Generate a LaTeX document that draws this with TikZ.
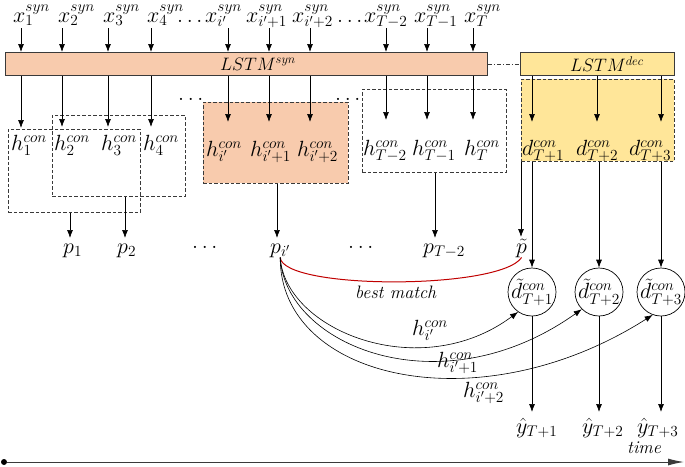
\RequirePackage{fix-cm}
\documentclass[tikz,border=0pt]{standalone}
\usetikzlibrary{arrows.meta,calc}
\definecolor{salmon}{HTML}{F8CBAD}
\definecolor{gold}{HTML}{FFE699}
\definecolor{edgec}{HTML}{3A3A3A}
\definecolor{matchred}{HTML}{C00000}
\begin{document}
\begin{tikzpicture}[x=1pt,y=-1pt,
  lab/.style={font=\fontsize{22}{26}\selectfont, inner sep=0pt, anchor=base west},
  mlab/.style={font=\fontsize{18}{21}\selectfont, inner sep=0pt},
  arr/.style={-{Latex[length=8pt,width=6pt]}, line width=0.7pt},
  bar/.style={draw=edgec, line width=0.9pt, inner sep=0pt, anchor=north west, minimum height=23pt},
  dbox/.style={draw=edgec, dash pattern=on 3.5pt off 2pt, line width=0.8pt, inner sep=0pt, anchor=north west},
  curve/.style={-{Latex[length=8pt,width=6pt]}, line width=0.6pt},
  circ/.style={circle, draw, line width=0.7pt, minimum size=48pt, inner sep=0pt},
  clab/.style={font=\fontsize{22}{26}\selectfont, inner sep=0pt},
]
\useasboundingbox (0,0) rectangle (685,466);

% dashed groups
\node[dbox, minimum width=132pt, minimum height=83pt] (bA) at (8,129) {};
\node[dbox, minimum width=133pt, minimum height=81pt] (bB) at (52,115) {};
\node[dbox, fill=salmon, minimum width=145pt, minimum height=81pt] (bI) at (203,102) {};
\node[dbox, minimum width=144pt, minimum height=83pt] (bT) at (362,89) {};
\node[dbox, fill=gold, minimum width=153pt, minimum height=82pt] (bD) at (521,79) {};

% LSTM bars
\node[bar, fill=salmon, minimum width=482pt] (syn) at (5,52) {};
\node[bar, fill=gold, minimum width=154pt] (dec) at (520,52) {};
\node[mlab] (synl) at (258,64) {$LSTM^{syn}$};
\node[mlab] (decl) at (607,64) {$LSTM^{dec}$};
\draw[edgec, line width=0.6pt, dash pattern=on 4pt off 2pt on 1pt off 2pt] (syn.east) -- (dec.west);

% inputs
\node[lab] (x1) at (13,22) {$x_1^{syn}$};
\node[lab] (x2) at (58,22) {$x_2^{syn}$};
\node[lab] (x3) at (103,22) {$x_3^{syn}$};
\node[lab] (x4) at (147,22) {$x_4^{syn}$};
\node[lab] (dt1) at (177,22) {$\ldots$};
\node[lab] (xa) at (205,22) {$x_{i'}^{syn}$};
\node[lab] (xb) at (246,22) {$x_{i'+1}^{syn}$};
\node[lab] (xc) at (292,22) {$x_{i'+2}^{syn}$};
\node[lab] (dt2) at (337,22) {$\ldots$};
\node[lab] (xd) at (364,22) {$x_{T-2}^{syn}$};
\node[lab] (xe) at (414,22) {$x_{T-1}^{syn}$};
\node[lab] (xf) at (464,22) {$x_{T}^{syn}$};
\foreach \n/\a in {x1/21,x2/62,x3/108,x4/151,xa/228,xb/269,xc/310,xd/386,xe/427,xf/473}
  \draw[arr] ($(\n.base -| \a,0)+(0,6)$) -- (syn.north -| \a,0);

% hidden states
\node[lab] (h1) at (11,150) {$h_1^{con}$};
\node[lab] (h2) at (54,150) {$h_2^{con}$};
\node[lab] (h3) at (101,150) {$h_3^{con}$};
\node[lab] (h4) at (143,150) {$h_4^{con}$};
\node[lab] (dm1) at (178,100) {$\ldots$};
\node[lab] (ha) at (206,156) {$h_{i'}^{con}$};
\node[lab] (hb) at (250,156) {$h_{i'+1}^{con}$};
\node[lab] (hc) at (297,156) {$h_{i'+2}^{con}$};
\node[lab] (dm2) at (335,100) {$\ldots$};
\node[lab] (hd) at (363,155) {$h_{T-2}^{con}$};
\node[lab] (he) at (412,155) {$h_{T-1}^{con}$};
\node[lab] (hf) at (464,155) {$h_{T}^{con}$};
\node[lab] (d1) at (522,155) {$d_{T+1}^{con}$};
\node[lab] (d2) at (576,155) {$d_{T+2}^{con}$};
\node[lab] (d3) at (629,155) {$d_{T+3}^{con}$};
\foreach \h/\a/\g in {h1/21/22,h2/62/23,h3/108/23,h4/151/23,ha/228/34,hb/269/34,hc/310/34,hd/386/35,he/427/35,hf/473/35}
  \draw[arr] (syn.south -| \a,0) -- ($(\h.base -| \a,0)+(0,-\g)$);
\foreach \h/\a in {d1/532,d2/597,d3/661}
  \draw[arr] (dec.south -| \a,0) -- ($(\h.base -| \a,0)+(0,-33)$);

% patterns
\node[lab] (p1) at (63,253) {$p_1$};
\node[lab] (p2) at (117,253) {$p_2$};
\node[lab] (dp1) at (192,248) {$\ldots$};
\node[lab] (pi) at (270,253) {$p_{i'}$};
\node[lab] (dp2) at (348,248) {$\ldots$};
\node[lab] (pT) at (423,253) {$p_{T-2}$};
\node[lab] (pt) at (516,253) {$\tilde{p}$};
\draw[arr] (bA.south -| 70,0) -- ($(p1.base -| 70,0)+(0,-15)$);
\draw[arr] (bB.south -| 125,0) -- ($(p2.base -| 125,0)+(0,-15)$);
\draw[arr] (bI.south -| 277,0) -- ($(pi.base -| 277,0)+(0,-15)$);
\draw[arr] (bT.south -| 435,0) -- ($(pT.base -| 435,0)+(0,-15)$);
\draw[arr] (bD.south west) -- ($(pt.base -| bD.west)+(0,-16)$);

% decoder outputs
\node[circ] (c1) at (532,292) {};
\node[circ] (c2) at (599,292) {};
\node[circ] (c3) at (661,292) {};
\node[clab] (c1l) at (532,292) {$\tilde{d}_{T+1}^{con}$};
\node[clab] (c2l) at (599,292) {$\tilde{d}_{T+2}^{con}$};
\node[clab] (c3l) at (661,292) {$\tilde{d}_{T+3}^{con}$};
\draw[arr] (bD.south -| c1) -- (c1.north);
\draw[arr] (bD.south -| c2) -- (c2.north);
\draw[arr] (bD.south -| c3) -- (c3.north);

\node[lab] (y1) at (516,433) {$\hat{y}_{T+1}$};
\node[lab] (y2) at (582,433) {$\hat{y}_{T+2}$};
\node[lab] (y3) at (637,433) {$\hat{y}_{T+3}$};
\draw[arr] (c1.south) -- ($(y1.base -| c1)+(0,-21)$);
\draw[arr] (c2.south) -- ($(y2.base -| c2)+(0,-21)$);
\draw[arr] (c3.south) -- ($(y3.base -| c3)+(0,-21)$);

% best match
\draw[matchred, line width=1pt] (pi.south) .. controls (283,290) and (500,290) .. (pt.south);
\node[font=\fontsize{18}{21}\selectfont\itshape, inner sep=0pt, anchor=base west] (bm) at (355,298) {best match};

% transfers
\draw[curve] (pi.south) .. controls (285,330) and (420,385) .. (c1.235);
\draw[curve] (pi.south) .. controls (285,345) and (440,410) .. (c2.225);
\draw[curve] (pi.south) .. controls (280,380) and (480,425) .. (c3.250);
\node[lab] (t1) at (412,335) {$h_{i'}^{con}$};
\node[lab] (t2) at (437,367) {$h_{i'+1}^{con}$};
\node[lab] (t3) at (463,397) {$h_{i'+2}^{con}$};

% time axis
\node[circle, fill=black, inner sep=0pt, minimum size=6pt] (ts) at (4,462) {};
\coordinate (te) at (684,462);
\draw[edgec, line width=1pt, -{Latex[length=16pt,width=7pt]}] (ts) -- (te);
\node[font=\fontsize{18}{21}\selectfont\itshape, inner sep=0pt, anchor=base west] (tm) at (627,453) {time};
\end{tikzpicture}
\end{document}
